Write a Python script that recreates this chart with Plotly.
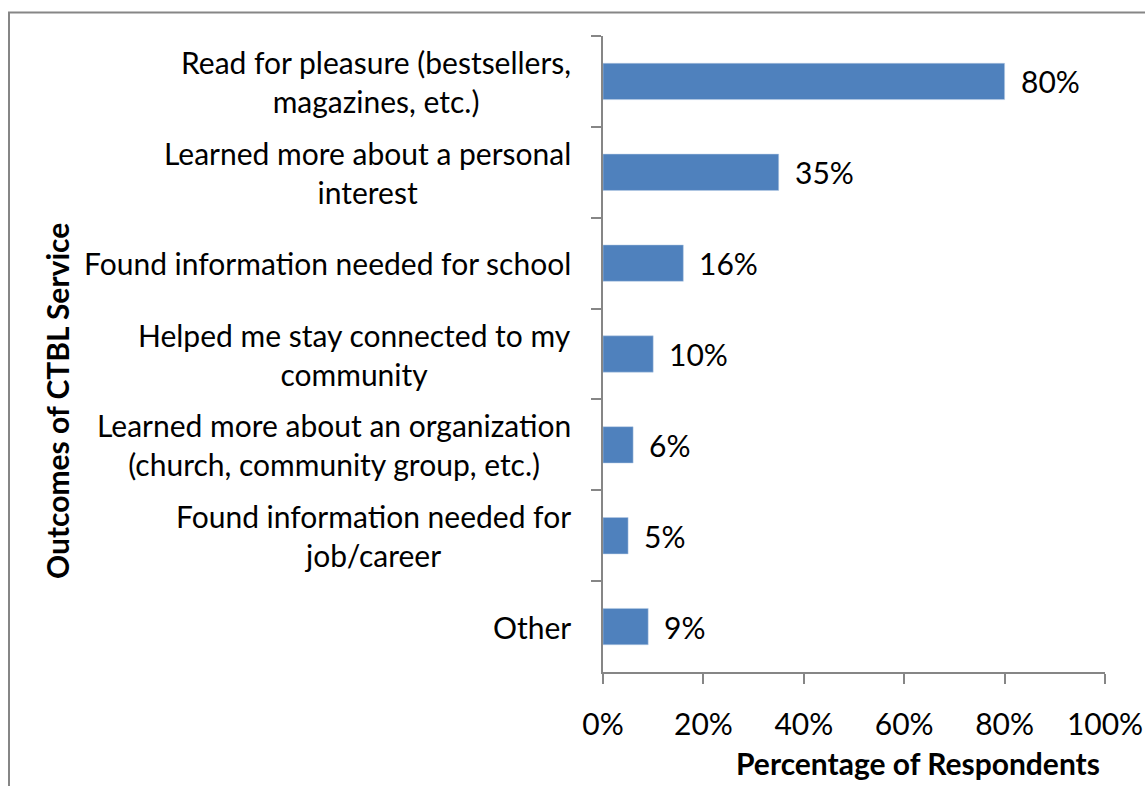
import plotly.graph_objects as go

categories = [
    "Read for pleasure (bestsellers,<br>magazines, etc.)",
    "Learned more about a personal<br>interest",
    "Found information needed for school",
    "Helped me stay connected to my<br>community",
    "Learned more about an organization<br>(church, community group, etc.)",
    "Found information needed for<br>job/career",
    "Other",
]
values = [80, 35, 16, 10, 6, 5, 9]
tick_vals = [0, 20, 40, 60, 80, 100]
x_title = "Percentage of Respondents"
y_title = "Outcomes of CTBL Service"

FONT = "Lato"
FS = 30
AX = "#868686"
W, H = 1145, 786
L, R, T, B = 603, 40, 36, 114
pw, ph = W - L - R, H - T - B

fig = go.Figure(go.Bar(
    x=values, y=categories, orientation="h",
    marker=dict(color="#4F81BD", line=dict(color="#B9CDE5", width=0.5)),
    width=0.4, hoverinfo="skip",
))

ann = []
for c, v in zip(categories, values):
    ann.append(dict(x=-30 / pw, xref="paper", y=c, yref="y", text=c, showarrow=False,
                    xanchor="right", yanchor="middle", align="center",
                    font=dict(family=FONT, size=FS, color="black")))
    ann.append(dict(x=v, xref="x", y=c, yref="y", text=f"{v}%", showarrow=False,
                    xanchor="left", yanchor="middle", xshift=14,
                    font=dict(family=FONT, size=FS, color="black")))
ann.append(dict(x=(918 - L) / pw, xref="paper", y=(H - B - 763) / ph, yref="paper",
                text=f"<b>{x_title}</b>", showarrow=False, xanchor="center", yanchor="middle",
                font=dict(family=FONT, size=FS, color="black")))
ann.append(dict(x=(57 - L) / pw, xref="paper", y=(H - B - 401) / ph, yref="paper",
                text=f"<b>{y_title}</b>", showarrow=False, textangle=-90,
                xanchor="center", yanchor="middle",
                font=dict(family=FONT, size=FS, color="black")))

fig.update_layout(
    width=W, height=H,
    margin=dict(l=L, r=R, t=T, b=B, autoexpand=False),
    paper_bgcolor="white", plot_bgcolor="white",
    showlegend=False,
    annotations=ann,
    shapes=[dict(type="rect", xref="paper", yref="paper",
                 x0=(9 - L) / pw, x1=(1160 - L) / pw,
                 y0=(H - B - 820) / ph, y1=(H - B - 12.5) / ph,
                 line=dict(color=AX, width=2), fillcolor="rgba(0,0,0,0)", layer="below")],
    xaxis=dict(range=[0, 100], tickvals=tick_vals, ticktext=[f"{t}%" for t in tick_vals],
               showgrid=False, zeroline=False, showline=True, linecolor=AX, linewidth=2,
               ticks="outside", ticklen=10, tickwidth=2, tickcolor=AX,
               ticklabelstandoff=15,
               tickfont=dict(family=FONT, size=FS, color="black")),
    yaxis=dict(categoryorder="array", categoryarray=categories, autorange="reversed",
               showticklabels=False, showgrid=False, zeroline=False,
               showline=True, linecolor=AX, linewidth=2,
               ticks="outside", tickson="boundaries", ticklen=10, tickwidth=2, tickcolor=AX),
)

fig.write_html("out.html")
